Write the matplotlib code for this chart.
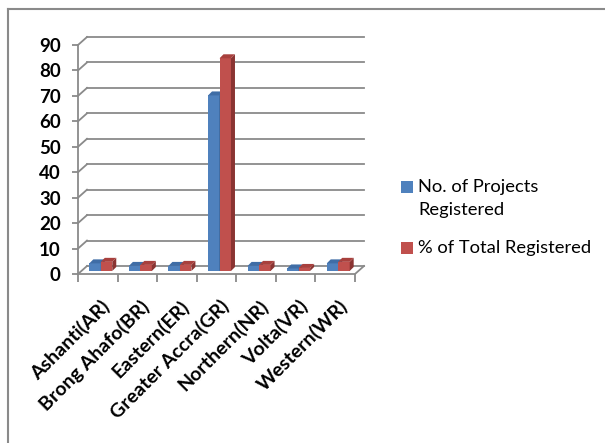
import matplotlib
matplotlib.use('Agg')
import matplotlib.pyplot as plt
from matplotlib.transforms import ScaledTranslation, IdentityTransform
from matplotlib.patches import Polygon, Rectangle
from matplotlib.lines import Line2D
import numpy as np

categories = ['Ashanti(AR)', 'Brong Ahafo(BR)', 'Eastern(ER)', 'Greater Accra(GR)',
              'Northern(NR)', 'Volta(VR)', 'Western(WR)']
projects = [3, 2, 2, 69, 2, 1, 3]
percent = [3.6, 2.4, 2.4, 83.6, 2.4, 1.2, 3.6]
yticks = [0, 10, 20, 30, 40, 50, 60, 70, 80, 90]
series_names = ['No. of Projects\nRegistered', '% of Total Registered']

plt.rcParams['font.family'] = ['Lato', 'DejaVu Sans']

W, H = 605, 443
DPI = 100
GRID = '#8a8a8a'
BLUE, BLUE_TOP, BLUE_SIDE = '#4F81BD', '#3F6DA6', '#345A8A'
RED, RED_TOP, RED_SIDE = '#C0504D', '#A8403D', '#8A3432'

fig = plt.figure(figsize=(W / DPI, H / DPI), dpi=DPI)
ax = fig.add_axes([78 / W, 1 - 274 / H, 277 / W, 229 / H])
n = len(categories)

# bars (front faces slightly behind the front plane)
front_off = ScaledTranslation(3 / DPI, 3 / DPI, fig.dpi_scale_trans)
trans_front = ax.transData + front_off
x = np.arange(n) + 0.5
w = 0.29
ax.bar(x - w / 2, projects, w, color=BLUE, transform=trans_front, zorder=3, clip_on=False)
ax.bar(x + w / 2, percent, w, color=RED, transform=trans_front, zorder=3.3, clip_on=False)

ax.set_xlim(0, n)
ax.set_ylim(0, 90)
for s in ['top', 'right', 'bottom']:
    ax.spines[s].set_visible(False)
ax.spines['left'].set_color(GRID)
ax.spines['left'].set_linewidth(1.3)
ax.set_xticks(range(n + 1))
ax.set_xticklabels([])
ax.tick_params(axis='x', length=5.5, width=1.3, color=GRID, direction='out')
ax.set_yticks(yticks)
ax.set_yticklabels([str(v) for v in yticks], fontsize=13.5, fontweight='bold')
ax.tick_params(axis='y', length=4.5, width=1.3, color=GRID, direction='out', pad=8)
ax.patch.set_visible(False)

fig.canvas.draw()

# back wall gridlines and floor (perspective offset)
DX, DY = 9, 8
for v in yticks:
    p0 = ax.transData.transform((0, v))
    p1 = ax.transData.transform((n, v))
    ax.add_line(Line2D([p0[0], p0[0] + DX], [p0[1], p0[1] + DY], color=GRID, lw=1.3,
                       transform=IdentityTransform(), clip_on=False, zorder=1))
    ax.add_line(Line2D([p0[0] + DX, p1[0] + DX], [p0[1] + DY, p1[1] + DY], color=GRID, lw=1.3,
                       transform=IdentityTransform(), clip_on=False, zorder=1))
f0 = ax.transData.transform((0, 0))
f1 = ax.transData.transform((n, 0))
ax.add_line(Line2D([f0[0], f1[0], f1[0] + DX], [f0[1], f1[1], f1[1] + DY], color=GRID, lw=1.3,
                   transform=IdentityTransform(), clip_on=False, zorder=1))

# bar depth faces
BD = 4
def faces(xl, xr, h, top_c, side_c, z):
    b0 = trans_front.transform((xl, 0))
    b1 = trans_front.transform((xr, h))
    top = [(b0[0], b1[1]), (b1[0], b1[1]), (b1[0] + BD, b1[1] + BD), (b0[0] + BD, b1[1] + BD)]
    side = [(b1[0], b0[1]), (b1[0], b1[1]), (b1[0] + BD, b1[1] + BD), (b1[0] + BD, b0[1] + BD)]
    ax.add_patch(Polygon(side, closed=True, facecolor=side_c, edgecolor='none',
                         transform=IdentityTransform(), clip_on=False, zorder=z))
    ax.add_patch(Polygon(top, closed=True, facecolor=top_c, edgecolor='none',
                         transform=IdentityTransform(), clip_on=False, zorder=z + 0.05))

for i in range(n):
    faces(x[i] - w, x[i], projects[i], BLUE_TOP, BLUE_SIDE, 3.1)
    faces(x[i], x[i] + w, percent[i], RED_TOP, RED_SIDE, 3.4)

# category labels
for i, cat in enumerate(categories):
    ax.annotate(cat, xy=(x[i], 0), xycoords='data', xytext=(3, -23),
                textcoords='offset pixels', rotation=45, ha='right', va='top',
                rotation_mode='anchor', fontsize=14, fontweight='bold', annotation_clip=False)

# legend
colors = [BLUE, RED]
legend_y = [187, 248]
for name, c, yc in zip(series_names, colors, legend_y):
    fig.add_artist(Rectangle((401 / W, 1 - (yc + 6) / H), 12 / W, 12 / H, facecolor=c,
                             edgecolor='none', transform=fig.transFigure))
    for k, line in enumerate(name.split('\n')):
        fig.text(418 / W, 1 - (yc + 23 * k) / H, line, fontsize=13.2, va='center', ha='left')

# outer frame (partially visible)
fig.add_artist(Line2D([8 / W, 8 / W], [0, 1 - 9 / H], color='#8a8a8a', lw=1.5,
                      transform=fig.transFigure))
fig.add_artist(Line2D([8 / W, 1], [1 - 9 / H, 1 - 9 / H], color='#8a8a8a', lw=1.5,
                      transform=fig.transFigure))

fig.savefig('out.png', dpi=DPI)
